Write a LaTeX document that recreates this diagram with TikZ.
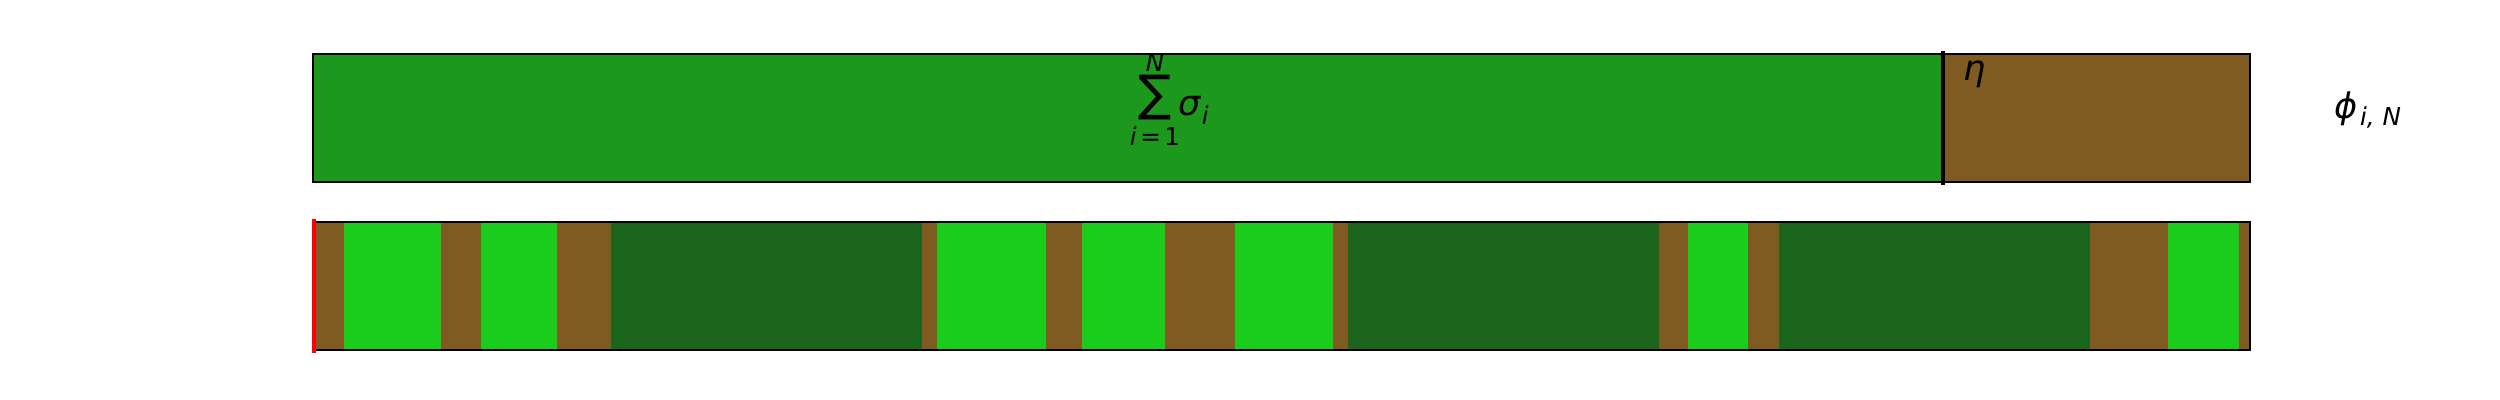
\documentclass[tikz,border=0pt]{standalone}
\usepackage{fontspec}
\setmainfont{DejaVu Sans}
\usepackage{tikz}

\definecolor{topgreen}{RGB}{28,153,28}
\definecolor{soil}{RGB}{127,91,34}
\definecolor{lightgreen}{RGB}{26,205,29}
\definecolor{darkgreen}{RGB}{27,102,28}

\begin{document}
\begin{tikzpicture}[x=0.01cm, y=-0.01cm,
	bar/.style = {draw=black, line width=0.55pt},
	lbl/.style = {inner sep=0pt, font=\fontsize{10pt}{12pt}\selectfont\itshape},
	sub/.style = {inner sep=0pt, font=\fontsize{7pt}{8pt}\selectfont\itshape}]
	\useasboundingbox (0,0) rectangle (2500,400);
	% top bar
	\fill[topgreen] (313,54) rectangle (1943,182);
	\fill[soil] (1943,54) rectangle (2250,182);
	\draw[bar] (313,54) rectangle (2250,182);
	\draw[line width=1.1pt] (1943,51) -- (1943,185);
	\node[lbl] (eta) at (1975,74) {η};
	\node[lbl] (phi) at (2346,109) {ϕ};
	\node[sub, anchor=west] (phisub) at ([xshift=0.3pt, yshift=-2.5pt]phi.east) {i, N};
	% sum
	\node[inner sep=0pt, font=\fontsize{14pt}{16pt}\selectfont] (sum) at (1155,98) {∑};
	\node[sub, anchor=south] (top) at ([yshift=0.8pt]sum.north) {N};
	\node[sub, anchor=north] (bot) at ([yshift=-1.5pt]sum.south) {i{\kern1pt}={\kern1pt}\upshape 1};
	\node[lbl, anchor=west] (sig) at ([xshift=1.5pt, yshift=-2.3pt]sum.east) {σ};
	\node[sub, anchor=west] (sigsub) at ([xshift=0pt, yshift=-2.5pt]sig.east) {i};
	% bottom bar
	\foreach \a/\b/\c in {313/344/soil, 344/441/lightgreen, 441/481/soil, 481/557/lightgreen,
		557/611/soil, 611/922/darkgreen, 922/937/soil, 937/1046/lightgreen, 1046/1082/soil,
		1082/1165/lightgreen, 1165/1235/soil, 1235/1333/lightgreen, 1333/1348/soil,
		1348/1659/darkgreen, 1659/1688/soil, 1688/1748/lightgreen, 1748/1779/soil,
		1779/2090/darkgreen, 2090/2168/soil, 2168/2239/lightgreen, 2239/2250/soil}
		\fill[\c] (\a,222) rectangle (\b,350);
	\draw[bar] (313,222) rectangle (2250,350);
	\draw[red, line width=1pt] (314,219) -- (314,353);
\end{tikzpicture}
\end{document}
